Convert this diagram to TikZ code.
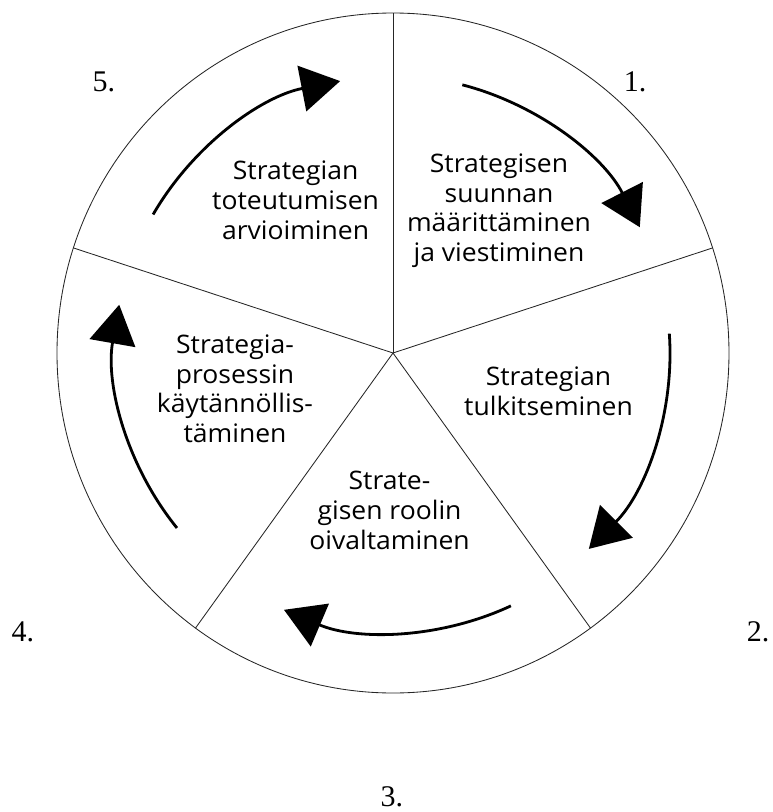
\documentclass[tikz,border=0pt]{standalone}
\usepackage{fontspec}
\setmainfont{Liberation Serif}
\newfontfamily\segfont[FakeStretch=1.04]{Open Sans}
\usetikzlibrary{arrows.meta}
\begin{document}
\begin{tikzpicture}[x=1pt,y=1pt,
  seg/.style={font=\segfont\fontsize{25.5}{29.8}\selectfont, align=center, inner sep=0pt},
  num/.style={font=\fontsize{30}{33}\selectfont, inner sep=0pt},
  rim/.style={line width=0.85pt, draw=black!85},
  cyc/.style={line width=2.8pt, -{Triangle[length=39pt,width=46pt]}}]
\useasboundingbox (-393,-459) rectangle (379,353);
\coordinate (c) at (0,0);
\draw[rim] (c) ellipse [x radius=336, y radius=340];
\foreach \a [count=\i] in {90,18,-54,-126,162}{
  \coordinate (s\i) at (\a:336pt and 340pt);
  \draw[rim] (c) -- (s\i);
}
\coordinate (a1) at (75.5:277pt);
\coordinate (a2) at (4:277pt);
\coordinate (a3) at (-65:279pt);
\coordinate (a4) at (-141:278pt);
\coordinate (a5) at (150:277pt);
\draw[cyc] (a1) arc[start angle=75.5, end angle=27, radius=277pt];
\draw[cyc] (a2) arc[start angle=4, end angle=-45, radius=277pt];
\draw[cyc] (a3) arc[start angle=-65, end angle=-113, radius=279pt];
\draw[cyc] (a4) arc[start angle=-141, end angle=-190, radius=278pt];
\draw[cyc] (a5) arc[start angle=150, end angle=101, radius=277pt];
\node[seg] (t1) at (106,142.3) {Strategisen\\suunnan\\määrittäminen\\ja viestiminen};
\node[seg] (t5) at (-97.4,152.5) {Strategian\\toteutumisen\\arvioiminen};
\node[seg] (t4) at (-158,-35.7) {Strategia-\\prosessin\\käytännöllis-\\täminen};
\node[seg] (t2) at (155.5,-38) {Strategian\\tulkitseminen};
\node[seg] (t3) at (-3.5,-157.5) {Strate-\\gisen roolin\\oivaltaminen};
\node[num] (n1) at (242,271) {1.};
\node[num] (n2) at (365,-279) {2.};
\node[num] (n3) at (-1,-444) {3.};
\node[num] (n4) at (-370,-279) {4.};
\node[num] (n5) at (-289,271) {5.};
\end{tikzpicture}
\end{document}
